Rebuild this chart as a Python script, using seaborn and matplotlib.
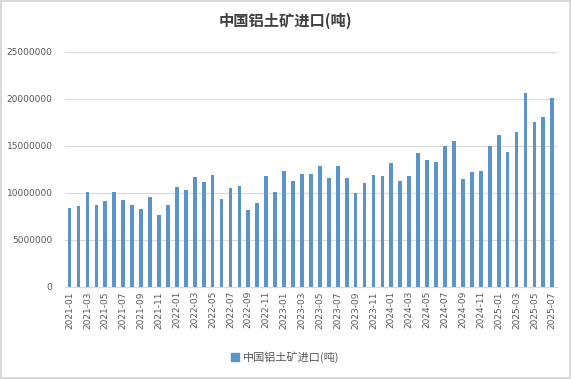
import pandas as pd
import numpy as np
import seaborn as sns
from matplotlib import pyplot as plt
from matplotlib.patches import Patch

# monthly bauxite imports, tonnes
months = [f"{y}-{m:02d}" for y in range(2021, 2026) for m in range(1, 13)][:55]
imports = [
    8400000, 8620000, 10110000, 8720000, 9150000, 10110000, 9260000, 8720000,
    8300000, 9570000, 7660000, 8720000,
    10640000, 10320000, 11700000, 11170000, 11910000, 9360000, 10530000, 10740000,
    8190000, 8940000, 11810000, 10110000,
    12340000, 11280000, 12020000, 12020000, 12870000, 11600000, 12870000, 11600000,
    10000000, 11060000, 11910000, 11810000,
    13190000, 11280000, 11810000, 14260000, 13510000, 13300000, 15000000, 15530000,
    11490000, 12230000, 12340000, 15000000,
    16170000, 14400000, 16490000, 20640000, 17550000, 18090000, 20110000,
]
series_name = "中国铝土矿进口(吨)"

df = pd.DataFrame({"month": months, "value": imports})

sns.set_theme(style="white")
plt.rcParams['font.family'] = ['Noto Sans CJK SC', 'DejaVu Sans']

fig = plt.figure(figsize=(5.71, 3.79), dpi=100)
fig.patch.set_edgecolor('#d9d9d9')
fig.patch.set_linewidth(1.5)
ax = fig.add_axes([0.114, 0.243, 0.861, 0.62])

bar_color = '#5a94c8'
sns.barplot(data=df, x="month", y="value", color=bar_color, width=0.42,
            saturation=1, linewidth=0, ax=ax)

ax.set_ylim(0, 25000000)
ax.set_yticks(np.arange(0, 25000001, 5000000))
ax.set_yticklabels([str(v) for v in range(0, 25000001, 5000000)],
                   fontsize=6.5, color='#595959', family='DejaVu Sans')
ax.yaxis.grid(True, color='#d9d9d9', linewidth=0.8)
ax.set_axisbelow(True)

ax.set_xticks(range(0, len(months), 2))
ax.set_xticklabels(months[::2], rotation=90, fontsize=6.5, color='#595959',
                   family='DejaVu Sans')
ax.tick_params(axis='x', length=0, pad=3)
ax.tick_params(axis='y', length=0, pad=9)
ax.set_xlabel('')
ax.set_ylabel('')

for s in ['top', 'right', 'left']:
    ax.spines[s].set_visible(False)
ax.spines['bottom'].set_color('#d9d9d9')
ax.spines['bottom'].set_linewidth(0.8)

fig.text(0.5, 0.945, series_name, ha='center', va='center', fontsize=11,
         fontweight='bold', color='#404040')

fig.legend(handles=[Patch(color=bar_color, label=series_name)],
           loc='center', bbox_to_anchor=(0.5, 0.058), frameon=False,
           fontsize=8, handlelength=0.7, handleheight=0.7, handletextpad=0.4,
           labelcolor='#595959')

fig.savefig('out.png', dpi=100)
